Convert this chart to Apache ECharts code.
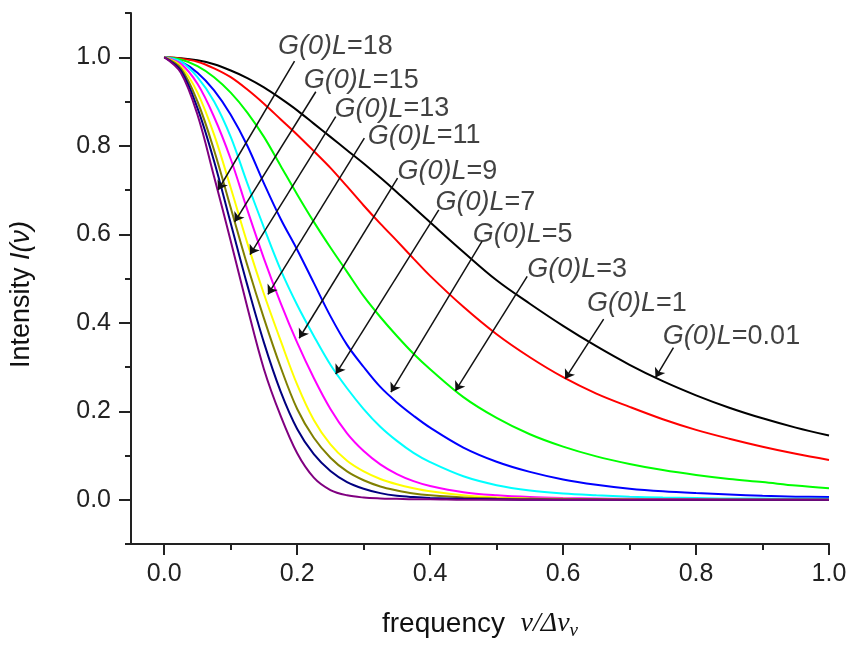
<!DOCTYPE html>
<html><head><meta charset="utf-8">
<script src="https://cdn.jsdelivr.net/npm/echarts@6/dist/echarts.min.js"></script>
<style>html,body{margin:0;padding:0;background:#fff}#c{width:852px;height:645px}</style>
</head><body><div id="c"></div>
<script>
// ---- data ----
const freq = [0, 0.025, 0.05, 0.075, 0.1, 0.125, 0.15, 0.175, 0.2, 0.225, 0.25, 0.275, 0.3, 0.325, 0.35, 0.375, 0.4, 0.45, 0.5, 0.55, 0.6, 0.65, 0.7, 0.75, 0.8, 0.85, 0.9, 0.95, 1.0];
const gl_0_01 = [1, 0.998, 0.993, 0.984, 0.97, 0.953, 0.932, 0.907, 0.88, 0.85, 0.82, 0.79, 0.76, 0.728, 0.695, 0.661, 0.627, 0.56, 0.496, 0.443, 0.393, 0.347, 0.305, 0.268, 0.236, 0.208, 0.184, 0.163, 0.145];
const gl_1  = [1, 0.997, 0.99, 0.975, 0.955, 0.927, 0.895, 0.86, 0.825, 0.788, 0.75, 0.708, 0.665, 0.624, 0.585, 0.545, 0.506, 0.436, 0.374, 0.322, 0.277, 0.24, 0.21, 0.182, 0.158, 0.138, 0.12, 0.104, 0.09];
const gl_3  = [1, 0.995, 0.98, 0.955, 0.92, 0.875, 0.82, 0.755, 0.69, 0.628, 0.57, 0.515, 0.46, 0.413, 0.37, 0.33, 0.295, 0.232, 0.185, 0.148, 0.12, 0.098, 0.081, 0.067, 0.056, 0.047, 0.04, 0.032, 0.026];
const gl_5  = [1, 0.99, 0.965, 0.925, 0.87, 0.8, 0.715, 0.635, 0.565, 0.49, 0.415, 0.35, 0.3, 0.255, 0.22, 0.19, 0.163, 0.118, 0.086, 0.063, 0.046, 0.034, 0.025, 0.019, 0.015, 0.012, 0.009, 0.007, 0.006];
const gl_7  = [1, 0.99, 0.955, 0.9, 0.82, 0.715, 0.615, 0.52, 0.44, 0.37, 0.305, 0.252, 0.205, 0.165, 0.133, 0.106, 0.085, 0.053, 0.033, 0.021, 0.014, 0.01, 0.007, 0.005, 0.004, 0.003, 0.003, 0.002, 0.002];
const gl_9  = [1, 0.985, 0.94, 0.865, 0.77, 0.655, 0.545, 0.445, 0.355, 0.275, 0.205, 0.15, 0.11, 0.08, 0.058, 0.042, 0.031, 0.017, 0.01, 0.006, 0.004, 0.003, 0.002, 0.001, 0.001, 0, 0, 0, 0];
const gl_11 = [1, 0.98, 0.92, 0.825, 0.705, 0.58, 0.465, 0.36, 0.26, 0.18, 0.125, 0.088, 0.064, 0.047, 0.035, 0.026, 0.019, 0.01, 0.005, 0.003, 0.002, 0.001, 0.001, 0, 0, 0, 0, 0, 0];
const gl_13 = [1, 0.975, 0.9, 0.79, 0.66, 0.53, 0.41, 0.3, 0.205, 0.14, 0.095, 0.064, 0.044, 0.03, 0.021, 0.014, 0.01, 0.005, 0.003, 0.002, 0.001, 0.001, 0, 0, 0, 0, 0, 0, 0];
const gl_15 = [1, 0.97, 0.885, 0.765, 0.625, 0.485, 0.355, 0.245, 0.16, 0.103, 0.065, 0.04, 0.025, 0.015, 0.009, 0.006, 0.004, 0.002, 0.001, 0, 0, 0, 0, 0, 0, 0, 0, 0, 0];
const gl_18 = [1, 0.965, 0.87, 0.73, 0.585, 0.435, 0.295, 0.19, 0.105, 0.05, 0.022, 0.01, 0.005, 0.003, 0.002, 0.001, 0.001, 0, 0, 0, 0, 0, 0, 0, 0, 0, 0, 0, 0];

const curveLabels = ['0.01', '1', '3', '5', '7', '9', '11', '13', '15', '18'];
const curveValues = [gl_0_01, gl_1, gl_3, gl_5, gl_7, gl_9, gl_11, gl_13, gl_15, gl_18];

const xTickValues = [0, 0.2, 0.4, 0.6, 0.8, 1.0];
const xMinorTickValues = [0.1, 0.3, 0.5, 0.7, 0.9];
const yTickValues = [0, 0.2, 0.4, 0.6, 0.8, 1.0];
const yMinorTickValues = [-0.1, 0.1, 0.3, 0.5, 0.7, 0.9, 1.1];

// annotation anchors (data coordinates): label left/center, leader-line start and arrow tip
const annLabelX = [0.750, 0.636, 0.546, 0.464, 0.408, 0.351, 0.306, 0.256, 0.210, 0.171];
const annLabelY = [0.369, 0.444, 0.520, 0.599, 0.671, 0.741, 0.822, 0.883, 0.948, 1.025];
const annFromX  = [0.766, 0.661, 0.546, 0.478, 0.413, 0.351, 0.301, 0.258, 0.228, 0.196];
const annFromY  = [0.344, 0.408, 0.505, 0.584, 0.655, 0.727, 0.817, 0.866, 0.922, 0.991];
const annToX    = [0.739, 0.603, 0.438, 0.341, 0.258, 0.203, 0.156, 0.129, 0.106, 0.081];
const annToY    = [0.276, 0.273, 0.246, 0.243, 0.284, 0.365, 0.464, 0.554, 0.628, 0.700];

// ---- styles ----
const colors = ['#000000', '#ff0000', '#00ff00', '#0000ff', '#00ffff', '#ff00ff', '#ffff00', '#808000', '#000080', '#800080'];
const FONT = 'Liberation Sans, Arial, sans-serif';
const AX = '#222';
const TXT = '#111';

const chart = echarts.init(document.getElementById('c'), null, {renderer: 'canvas'});

const series = curveValues.map((vals, k) => ({
  type: 'line',
  name: 'G(0)L=' + curveLabels[k],
  data: freq.map((x, i) => [x, vals[i]]),
  showSymbol: false,
  smooth: 0.35,
  lineStyle: {color: colors[k], width: 2},
  itemStyle: {color: colors[k]},
  z: 2,
  silent: true
}));

series.push({
  type: 'scatter',
  name: 'annotations',
  data: curveLabels.map((l, k) => [annLabelX[k], annLabelY[k], l]),
  symbolSize: 0,
  silent: true,
  z: 5,
  label: {
    show: true,
    position: 'right',
    distance: 0,
    formatter: p => '{i|G(0)L}{n|=' + p.value[2] + '}',
    rich: {
      i: {fontFamily: FONT, fontStyle: 'italic', fontSize: 27, color: TXT},
      n: {fontFamily: FONT, fontSize: 27, color: TXT}
    }
  },
  markLine: {
    silent: true,
    animation: false,
    symbol: ['none', 'arrow'],
    symbolSize: 9,
    label: {show: false},
    lineStyle: {color: TXT, width: 1.5, type: 'solid'},
    z: 5,
    data: curveLabels.map((l, k) => [
      {coord: [annFromX[k], annFromY[k]]},
      {coord: [annToX[k], annToY[k]]}
    ])
  }
});

const labelStyle = {fontFamily: FONT, fontSize: 25, color: AX};

chart.setOption({
  animation: false,
  backgroundColor: '#fff',
  grid: {left: 130, right: 23, top: 13, bottom: 99, containLabel: false},
  xAxis: [{
    type: 'value', min: -0.05, max: 1.0,
    axisLine: {show: true, onZero: false, lineStyle: {color: AX, width: 2}},
    axisTick: {show: true, length: 11, inside: false, customValues: xTickValues, lineStyle: {color: AX, width: 2}},
    axisLabel: Object.assign({customValues: xTickValues, margin: 18, formatter: v => v.toFixed(1)}, labelStyle),
    splitLine: {show: false},
    name: '{n|frequency  }{g|ν/Δν}{s|ν}',
    nameLocation: 'middle',
    nameGap: 64,
    nameTextStyle: {
      rich: {
        n: {fontFamily: FONT, fontSize: 28, color: TXT, lineHeight: 32},
        g: {fontFamily: 'Liberation Serif, serif', fontStyle: 'italic', fontSize: 28, color: TXT, lineHeight: 32},
        s: {fontFamily: 'Liberation Serif, serif', fontStyle: 'italic', fontSize: 19, color: TXT, verticalAlign: 'bottom', lineHeight: 22}
      }
    }
  }, {
    type: 'value', min: -0.05, max: 1.0, position: 'bottom',
    axisLine: {show: false, onZero: false},
    axisTick: {show: true, length: 6, customValues: xMinorTickValues, lineStyle: {color: AX, width: 2}},
    axisLabel: {show: false},
    splitLine: {show: false}
  }],
  yAxis: [{
    type: 'value', min: -0.1, max: 1.1,
    axisLine: {show: true, onZero: false, lineStyle: {color: AX, width: 2}},
    axisTick: {show: true, length: 12, customValues: yTickValues, lineStyle: {color: AX, width: 2}},
    axisLabel: Object.assign({customValues: yTickValues, margin: 20, formatter: v => v.toFixed(1)}, labelStyle),
    splitLine: {show: false},
    name: '{n|Intensity }{g|I(ν)}',
    nameLocation: 'middle',
    nameGap: 96,
    nameRotate: 90,
    nameTextStyle: {
      padding: [0, 32, 0, 0],
      rich: {
        n: {fontFamily: FONT, fontSize: 27, color: TXT},
        g: {fontFamily: FONT, fontStyle: 'italic', fontSize: 27, color: TXT}
      }
    }
  }, {
    type: 'value', min: -0.1, max: 1.1, position: 'left',
    axisLine: {show: false, onZero: false},
    axisTick: {show: true, length: 6, customValues: yMinorTickValues, lineStyle: {color: AX, width: 2}},
    axisLabel: {show: false},
    splitLine: {show: false}
  }],
  series: series
});
</script>
</body></html>
